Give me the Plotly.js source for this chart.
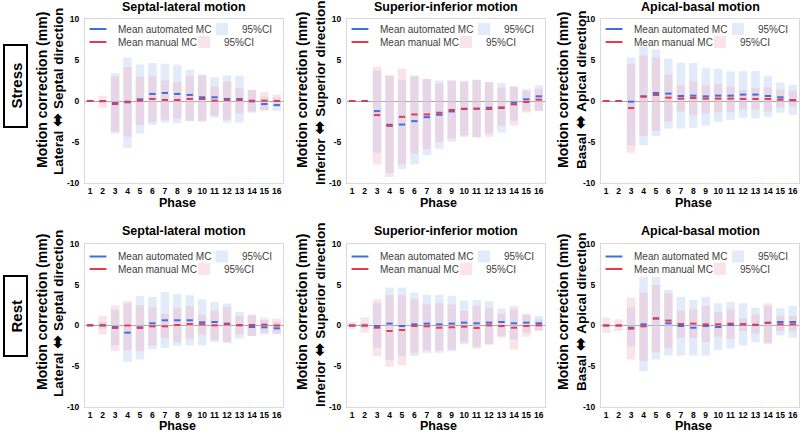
<!DOCTYPE html>
<html><head><meta charset="utf-8">
<script src="https://cdn.plot.ly/plotly-3.0.1.min.js"></script>
<style>html,body{margin:0;padding:0;background:#fff}#chart{width:800px;height:432px}</style>
</head><body><div id="chart"></div>
<script>
// ---------- data ----------
const phases = [1,2,3,4,5,6,7,8,9,10,11,12,13,14,15,16];
const yTickVals = [-10,-5,0,5,10];
const yTickText = ['-10','-5','0','5','10'];
const panelTitles = ['Septal-lateral motion','Superior-inferior motion','Apical-basal motion'];
const directionFrom = ['Lateral','Inferior','Basal'];
const directionTo = ['Septal direction','Superior direction','Apical direction'];
const arrowGlyph = '\u2B0C';
const yTitleMain = 'Motion correction (mm)';
const rowLabels = ['Stress','Rest'];
const xTitle = 'Phase';
const nameAutoMean = 'Mean automated MC';
const nameManMean = 'Mean manual MC';
const nameCI = '95%CI';

// Stress, septal-lateral
const stressSL_autoMean = [0,0,-0.25,-0.16,0.2,0.86,0.98,0.86,0.74,0.45,0.45,0.25,0.25,-0.04,-0.37,-0.5];
const stressSL_manMean  = [0,-0.03,-0.37,-0.08,0.04,0.25,0.12,0.12,0.25,0.25,0.04,0.12,0.12,0.04,0.04,0.0];
const stressSL_autoLo = [0,-0.05,-3.97,-5.7,-3.97,-2.9,-2.62,-2.7,-2.46,-2.42,-2.0,-2.62,-2.62,-1.43,-1.1,-1.2];
const stressSL_autoHi = [0,0.05,3.4,5.3,4.47,4.63,4.55,4.43,3.8,3.24,2.9,3.1,3.1,1.35,0.53,0.45];
const stressSL_manLo  = [0,-0.86,-3.73,-4.34,-2.9,-2.54,-2.3,-2.1,-2.42,-2.54,-1.8,-2.3,-1.52,-1.27,-1.19,-0.7];
const stressSL_manHi  = [0,0.65,3.0,4.14,3.0,3.0,2.5,2.3,3.0,3.1,1.76,2.38,1.6,1.35,1.07,0.8];

// Stress, superior-inferior
const stressSI_autoMean = [0,0,-1.23,-2.9,-2.87,-2.46,-1.97,-1.68,-1.27,-0.98,-0.94,-0.82,-0.86,-0.2,0.2,0.57];
const stressSI_manMean  = [0,0,-1.72,-3.03,-1.93,-1.64,-1.64,-1.43,-1.1,-0.94,-0.94,-0.98,-0.78,-0.41,-0.12,0.16];
const stressSI_autoLo = [0,0,-6.3,-8.77,-8.28,-7.75,-6.6,-5.82,-4.96,-4.38,-4.47,-3.97,-3.85,-2.4,-1.19,-1.2];
const stressSI_autoHi = [0,0,3.73,3.1,2.58,3.1,2.7,2.5,2.5,2.5,2.58,2.3,2.2,1.76,1.48,1.9];
const stressSI_manLo  = [0,0,-7.75,-9.26,-7.75,-6.43,-5.86,-5.0,-4.55,-4.18,-4.38,-4.38,-3.03,-3.0,-1.4,-1.19];
const stressSI_manHi  = [0,0,4.2,3.1,3.93,3.0,2.7,2.1,2.5,2.3,2.58,2.3,1.6,1.76,1.2,1.48];

// Stress, apical-basal
const stressAB_autoMean = [0,0,-0.08,0.57,0.98,0.9,0.61,0.65,0.57,0.65,0.65,0.78,0.78,0.61,0.45,0.12];
const stressAB_manMean  = [0,0,-0.86,0.53,0.74,0.41,0.29,0.37,0.29,0.29,0.29,0.25,0.25,0.25,0.16,0.08];
const stressAB_autoLo = [0,0,-5.4,-5.4,-4.26,-3.36,-3.36,-3.28,-3.0,-2.54,-2.3,-2.05,-2.1,-1.93,-1.43,-1.72];
const stressAB_autoHi = [0,0,5.3,6.6,6.27,5.16,4.67,4.63,4.06,3.93,3.6,3.65,3.65,3.1,2.25,2.0];
const stressAB_manLo  = [0,0,-6.3,-4.26,-3.65,-2.5,-1.3,-1.72,-1.52,-1.4,-1.3,-1.07,-1.07,-1.3,-0.78,-0.7];
const stressAB_manHi  = [0,0,4.47,5.57,5.3,3.24,1.9,2.42,1.9,2.05,1.76,1.35,1.56,1.68,1.35,1.27];

// Rest, septal-lateral
const restSL_autoMean = [0,0,-0.18,-0.88,-0.22,0.27,0.64,0.64,0.64,0.39,0.43,0.23,0.06,-0.18,-0.22,-0.35];
const restSL_manMean  = [0.05,0.05,-0.3,0.0,-0.3,-0.1,-0.1,0.06,0.18,0.14,0.02,0.14,0.02,0.06,0.1,0.0];
const restSL_autoLo = [-0.05,-0.4,-2.44,-4.46,-4.17,-2.94,-2.77,-2.48,-2.44,-2.44,-2.03,-2.16,-1.58,-1.29,-1.09,-1.09];
const restSL_autoHi = [0.05,0.45,1.9,2.73,3.63,3.5,4.1,3.84,3.72,3.22,2.9,2.69,1.66,1.25,0.68,0.43];
const restSL_manLo  = [-0.15,-1.09,-3.16,-3.06,-3.16,-2.44,-1.54,-2.03,-1.62,-1.13,-1.79,-1.99,-1.09,-1.29,-0.88,-0.96];
const restSL_manHi  = [0.15,1.17,2.48,3.0,2.48,2.24,1.42,2.16,2.4,1.33,1.83,2.28,1.17,1.37,0.96,0.84];

// Rest, superior-inferior
const restSI_autoMean = [0,0,-0.06,0.23,-0.06,0.14,0.23,0.14,0.23,0.35,0.27,0.35,0.43,0.27,0.35,0.27];
const restSI_manMean  = [0,0,-0.27,-0.68,-0.55,-0.06,-0.1,-0.27,-0.22,-0.14,-0.3,0.02,-0.06,-0.27,-0.06,0.02];
const restSI_autoLo = [-0.05,-0.3,-2.73,-4.25,-3.76,-3.76,-3.35,-3.35,-3.14,-2.32,-2.61,-2.32,-1.29,-1.7,-0.88,-0.55];
const restSI_autoHi = [0.05,0.3,2.73,4.66,4.66,4.04,3.76,3.76,3.63,3.06,3.14,2.98,2.07,1.99,1.42,1.17];
const restSI_manLo  = [-0.39,-0.9,-3.76,-5.07,-4.87,-3.35,-3.06,-3.06,-2.94,-2.03,-2.85,-2.32,-1.5,-2.94,-1.38,-0.68];
const restSI_manHi  = [0.43,1.0,3.22,3.76,3.72,3.22,2.6,2.73,2.6,1.79,2.4,2.2,1.46,2.4,1.29,0.76];

// Rest, apical-basal
const restAB_autoMean = [0,0,-0.27,0.14,0.88,0.27,-0.06,-0.27,-0.06,-0.18,0.06,0.14,0.06,0.35,0.43,0.43];
const restAB_manMean  = [0,0,-0.39,-0.1,0.84,0.6,0.18,0.23,0.14,0.14,0.23,0.14,0.1,0.31,0.14,0.14];
const restAB_autoLo = [-0.05,-0.05,-2.53,-5.6,-4.17,-3.68,-3.68,-3.68,-3.68,-3.02,-2.81,-2.44,-2.03,-2.12,-1.21,-1.5];
const restAB_autoHi = [0.05,0.05,2.2,5.97,5.97,4.37,3.51,3.14,3.51,2.73,2.9,2.73,2.2,2.4,2.12,2.4];
const restAB_manLo  = [-0.92,-0.68,-4.17,-4.37,-3.27,-2.77,-1.5,-1.54,-2.03,-1.38,-1.62,-0.68,-1.0,-2.24,-0.68,-0.72];
const restAB_manHi  = [0.96,0.76,3.43,4.04,4.99,3.96,1.83,1.99,2.4,1.66,1.99,0.88,1.33,2.73,1.17,1.17];

const panels = [
  {autoMean:stressSL_autoMean, manMean:stressSL_manMean, autoLo:stressSL_autoLo, autoHi:stressSL_autoHi, manLo:stressSL_manLo, manHi:stressSL_manHi},
  {autoMean:stressSI_autoMean, manMean:stressSI_manMean, autoLo:stressSI_autoLo, autoHi:stressSI_autoHi, manLo:stressSI_manLo, manHi:stressSI_manHi},
  {autoMean:stressAB_autoMean, manMean:stressAB_manMean, autoLo:stressAB_autoLo, autoHi:stressAB_autoHi, manLo:stressAB_manLo, manHi:stressAB_manHi},
  {autoMean:restSL_autoMean, manMean:restSL_manMean, autoLo:restSL_autoLo, autoHi:restSL_autoHi, manLo:restSL_manLo, manHi:restSL_manHi},
  {autoMean:restSI_autoMean, manMean:restSI_manMean, autoLo:restSI_autoLo, autoHi:restSI_autoHi, manLo:restSI_manLo, manHi:restSI_manHi},
  {autoMean:restAB_autoMean, manMean:restAB_manMean, autoLo:restAB_autoLo, autoHi:restAB_autoHi, manLo:restAB_manLo, manHi:restAB_manHi}
];

// ---------- style / geometry ----------
const W = 800, H = 432;
const FONT = '"Liberation Sans", Arial, "DejaVu Sans", sans-serif';
const BLUE = '#3b6fe3', RED = '#e23c4e';
const BLUE_FILL = 'rgba(190,210,245,0.45)', PINK_FILL = 'rgba(240,180,195,0.36)';
const colsPx = [[85,283],[347,545],[601,799]];
const rowsPx = [[19,183],[244,407]];
const yTitleX = [[42,57],[302,319],[563,580]];
const yTitleY = [90,312];
const yTitle2Shift = [1,3,0];
const titleY = [7,231];
const phaseY = [203,426];
const rowBoxY = [[45,127],[276,356]];
const fx = p => p / W, fy = p => 1 - p / H;
const diff = (a,b) => a.map((v,i) => v - b[i]);

const traces = [];
const layout = {
  width: W, height: H, margin: {l:0,r:0,t:0,b:0, autoexpand:false},
  paper_bgcolor: '#fff', plot_bgcolor: '#fff',
  barmode: 'overlay', showlegend: true, hovermode: false,
  font: {family: FONT, color: '#000'},
  annotations: [], shapes: []
};

let legendCount = 0;
function addLegend(cx, cy) {
  legendCount++;
  const id = legendCount === 1 ? 'legend' : 'legend' + legendCount;
  layout[id] = {
    x: fx(cx - 20), y: fy(cy - 14.5), xanchor: 'left', yanchor: 'top',
    bgcolor: 'rgba(0,0,0,0)', borderwidth: 0, itemsizing: 'constant',
    font: {family: FONT, size: 10, color: '#404040'},
    itemclick: false, itemdoubleclick: false
  };
  return id;
}

panels.forEach((p, i) => {
  const r = Math.floor(i / 3), c = i % 3, n = i + 1, s = n === 1 ? '' : String(n);
  const L = colsPx[c][0], R = colsPx[c][1], T = rowsPx[r][0], B = rowsPx[r][1];
  const dy1 = r === 0 ? 10 : 12.5, dy2 = r === 0 ? 23 : 25;
  const xa = 'x' + s, ya = 'y' + s;

  layout['xaxis' + s] = {
    domain: [fx(L), fx(R)], anchor: ya, range: [0.58, 16.5],
    tickvals: phases, ticktext: phases.map(String), ticks: '',
    tickfont: {family: FONT, size: 8.5, color: '#000', weight: 700},
    showgrid: false, zeroline: false, showline: true, mirror: true,
    linecolor: '#d9d9d9', linewidth: 1, fixedrange: true
  };
  layout['yaxis' + s] = {
    domain: [fy(B), fy(T)], anchor: xa, range: [-10, 10],
    tickvals: yTickVals, ticktext: yTickText, ticks: '', ticklabelstandoff: 3,
    tickfont: {family: FONT, size: 8.5, color: '#000', weight: 700},
    showgrid: false, zeroline: true, zerolinecolor: '#a6a6a6', zerolinewidth: 1,
    showline: true, mirror: true, linecolor: '#d9d9d9', linewidth: 1, fixedrange: true
  };

  const lgMeanA = addLegend(L + 13, T + dy1);
  const lgCIA = addLegend(L + 137, T + dy1);
  const lgMeanM = addLegend(L + 13, T + dy2);
  const lgCIM = addLegend(L + 119, T + dy2);

  traces.push({type:'bar', x: phases, y: diff(p.autoHi, p.autoLo), base: p.autoLo, width: 0.68,
    marker: {color: BLUE_FILL, line: {width: 0}}, name: nameCI, legend: lgCIA, xaxis: xa, yaxis: ya, hoverinfo: 'skip'});
  traces.push({type:'bar', x: phases, y: diff(p.manHi, p.manLo), base: p.manLo, width: 0.68,
    marker: {color: PINK_FILL, line: {width: 0}}, name: nameCI, legend: lgCIM, xaxis: xa, yaxis: ya, hoverinfo: 'skip'});
  traces.push({type:'scatter', mode:'markers', x: phases, y: p.autoMean, name: nameAutoMean, legend: lgMeanA,
    marker: {symbol: 'line-ew', size: 4.5, color: BLUE, line: {color: BLUE, width: 2}}, xaxis: xa, yaxis: ya, hoverinfo: 'skip'});
  traces.push({type:'scatter', mode:'markers', x: phases, y: p.manMean, name: nameManMean, legend: lgMeanM,
    marker: {symbol: 'line-ew', size: 4.5, color: RED, line: {color: RED, width: 2}}, xaxis: xa, yaxis: ya, hoverinfo: 'skip'});

  const cxPlot = (L + R) / 2;
  layout.annotations.push({xref:'paper', yref:'paper', x: fx(cxPlot), y: fy(titleY[r]), xanchor:'center', yanchor:'middle',
    text: panelTitles[c], showarrow: false, font: {family: FONT, size: 12.5, color: '#000', weight: 700}});
  layout.annotations.push({xref:'paper', yref:'paper', x: fx(cxPlot - 7), y: fy(phaseY[r]), xanchor:'center', yanchor:'middle',
    text: xTitle, showarrow: false, font: {family: FONT, size: 12.5, color: '#000', weight: 700}});
  layout.annotations.push({xref:'paper', yref:'paper', x: fx(yTitleX[c][0]), y: fy(yTitleY[r]), xanchor:'center', yanchor:'middle',
    text: yTitleMain, textangle: -90, showarrow: false, font: {family: FONT, size: 14, color: '#000', weight: 700}});
  layout.annotations.push({xref:'paper', yref:'paper', x: fx(yTitleX[c][1]), y: fy(yTitleY[r] + yTitle2Shift[c]), xanchor:'center', yanchor:'middle',
    text: directionFrom[c] + ' <span style="font-size:17px">' + arrowGlyph + '</span> ' + directionTo[c],
    textangle: -90, showarrow: false, font: {family: FONT, size: 13.5, color: '#000', weight: 700}});
});

rowLabels.forEach((lab, r) => {
  const y0 = rowBoxY[r][0], y1 = rowBoxY[r][1];
  layout.shapes.push({type:'rect', xref:'paper', yref:'paper', x0: fx(4), x1: fx(27), y0: fy(y1), y1: fy(y0),
    line: {color: '#000', width: 2}, fillcolor: 'rgba(0,0,0,0)'});
  layout.annotations.push({xref:'paper', yref:'paper', x: fx(15.5), y: fy((y0 + y1) / 2), xanchor:'center', yanchor:'middle',
    text: lab, textangle: -90, showarrow: false,
    font: {family: FONT, size: 15, color: '#000', weight: 700}});
});

Plotly.newPlot('chart', traces, layout, {staticPlot: true, displayModeBar: false});
</script>
</body></html>
